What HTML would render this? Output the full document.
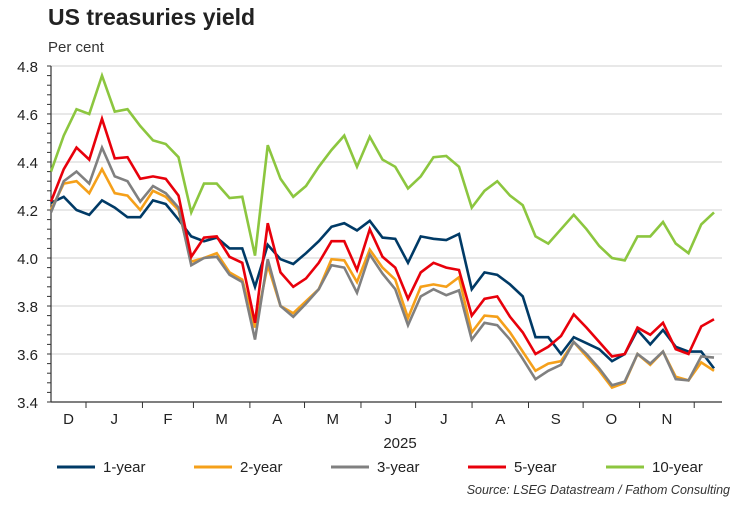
<!DOCTYPE html>
<html><head><meta charset="utf-8"><style>
body{margin:0;background:#fff;font-family:"Liberation Sans",Arial,sans-serif}
svg text{font-family:"Liberation Sans",Arial,sans-serif}
</style></head><body>
<svg id="chart" width="750" height="500" viewBox="0 0 750 500">
<text x="48" y="25" font-size="23" font-weight="bold" fill="#222">US treasuries yield</text>
<text x="48" y="52" font-size="15" fill="#333">Per cent</text>
<g id="grid"></g><g id="axes"></g><g id="series"></g>
<text x="400" y="448" font-size="15" text-anchor="middle" fill="#222">2025</text>
<g id="legend"></g>
<text x="730" y="494" font-size="12.5" font-style="italic" text-anchor="end" fill="#333">Source: LSEG Datastream / Fathom Consulting</text>
</svg>
<script>
const yTicks=[3.4,3.6,3.8,4.0,4.2,4.4,4.6,4.8];
const yTickLabels=["3.4","3.6","3.8","4.0","4.2","4.4","4.6","4.8"];
const monthLabels=["D","J","F","M","A","M","J","J","A","S","O","N"];
const monthStartDays=[0,31,59,90,120,151,181,212,243,273,304,334];
const seriesNames=["1-year","2-year","3-year","5-year","10-year"];
const seriesColors=["#003a66","#f5a01a","#808080","#e8000b","#8cc63f"];
const y1=[4.23,4.255,4.20,4.18,4.24,4.21,4.17,4.17,4.24,4.225,4.16,4.09,4.07,4.085,4.04,4.04,3.88,4.055,3.995,3.975,4.02,4.07,4.13,4.145,4.115,4.155,4.085,4.08,3.98,4.09,4.08,4.075,4.10,3.87,3.94,3.93,3.89,3.84,3.67,3.67,3.60,3.67,3.645,3.62,3.57,3.60,3.70,3.64,3.70,3.63,3.61,3.61,3.54];
const y2=[4.20,4.31,4.32,4.27,4.37,4.27,4.26,4.20,4.28,4.255,4.20,3.985,4.00,4.02,3.94,3.91,3.71,3.97,3.80,3.77,3.82,3.87,3.995,3.99,3.90,4.035,3.96,3.91,3.75,3.88,3.89,3.88,3.92,3.69,3.76,3.755,3.69,3.61,3.53,3.56,3.57,3.65,3.59,3.53,3.46,3.48,3.60,3.555,3.61,3.505,3.49,3.565,3.53];
const y3=[4.19,4.32,4.36,4.31,4.46,4.34,4.32,4.235,4.30,4.27,4.21,3.97,4.00,4.005,3.93,3.90,3.66,3.995,3.80,3.755,3.81,3.87,3.97,3.96,3.855,4.015,3.935,3.87,3.72,3.84,3.87,3.845,3.865,3.66,3.73,3.72,3.66,3.58,3.495,3.53,3.555,3.65,3.60,3.54,3.47,3.485,3.60,3.56,3.61,3.495,3.49,3.59,3.585];
const y5=[4.235,4.37,4.46,4.41,4.58,4.415,4.42,4.33,4.34,4.33,4.26,4.005,4.085,4.09,4.005,3.98,3.73,4.145,3.94,3.88,3.915,3.98,4.07,4.07,3.95,4.12,4.005,3.96,3.83,3.94,3.98,3.96,3.95,3.76,3.83,3.84,3.755,3.69,3.60,3.63,3.675,3.765,3.71,3.65,3.59,3.60,3.71,3.68,3.73,3.62,3.60,3.715,3.745];
const y10=[4.36,4.51,4.62,4.60,4.76,4.61,4.62,4.55,4.49,4.475,4.42,4.19,4.31,4.31,4.25,4.255,4.01,4.47,4.33,4.255,4.30,4.38,4.45,4.51,4.38,4.505,4.41,4.38,4.29,4.34,4.42,4.425,4.38,4.21,4.28,4.32,4.26,4.22,4.09,4.06,4.12,4.18,4.12,4.05,4.00,3.99,4.09,4.09,4.15,4.06,4.02,4.14,4.19];
const NS="http://www.w3.org/2000/svg";
const X0=51,X1=722,STEP=12.75,JAN=86,PXDAY=1.821;
function ys(v){return 258-(v-4)*240;}
function xs(i){return X0+i*STEP;}
function mk(tag,attrs,parent){const e=document.createElementNS(NS,tag);for(const k in attrs)e.setAttribute(k,attrs[k]);parent.appendChild(e);return e;}
const grid=document.getElementById('grid'),axes=document.getElementById('axes'),ser=document.getElementById('series'),leg=document.getElementById('legend');
yTicks.forEach((v,k)=>{
 if(k>0){const g=mk('line',{x1:X0,x2:X1,y1:ys(v),y2:ys(v),stroke:'#d9d9d9','stroke-width':1.2},grid);
 
 }
 const t=mk('text',{x:38,y:ys(v)+6,'font-size':15,'text-anchor':'end',fill:'#222'},axes);t.textContent=yTickLabels[k];
 
 
});
for(let v=3.4;v<=4.801;v+=0.04){mk('line',{x1:X0-4,x2:X0,y1:ys(v),y2:ys(v),stroke:'#333','stroke-width':1},axes);}
const ya=mk('line',{x1:X0,x2:X0,y1:ys(4.8),y2:ys(3.4),stroke:'#333','stroke-width':1.2},axes);


const xa=mk('line',{x1:X0,x2:X1,y1:ys(3.4),y2:ys(3.4),stroke:'#333','stroke-width':1.2},axes);


const tickX=monthStartDays.map(d=>JAN+d*PXDAY);
tickX.forEach(x=>mk('line',{x1:x,x2:x,y1:ys(3.4),y2:ys(3.4)+6,stroke:'#333','stroke-width':1},axes));
monthLabels.forEach((m,k)=>{
 const a=k===0?X0:tickX[k-1],b=tickX[k]!==undefined&&k>0?tickX[k]:JAN;
 const l=k===0?X0:tickX[k-1], r=k===0?JAN:(k<tickX.length?tickX[k]:X1);
 const t=mk('text',{x:(l+r)/2,y:424,'font-size':15,'text-anchor':'middle',fill:'#222'},axes);t.textContent=m;
 
 
});
[y1,y2,y3,y5,y10].forEach((arr,s)=>{
 const p=mk('polyline',{points:arr.map((v,i)=>xs(i)+','+ys(v)).join(' '),fill:'none',stroke:seriesColors[s],'stroke-width':2.6,'stroke-linejoin':'miter'},ser);
 
 
});
const legX=[57,194,331,468,606];
seriesNames.forEach((n,s)=>{
 const g=mk('g',{},leg);
 
 
 mk('line',{x1:legX[s],x2:legX[s]+38,y1:467,y2:467,stroke:seriesColors[s],'stroke-width':3},g);
 const t=mk('text',{x:legX[s]+46,y:472,'font-size':15,fill:'#222'},g);t.textContent=n;
});
</script>
</body></html>
